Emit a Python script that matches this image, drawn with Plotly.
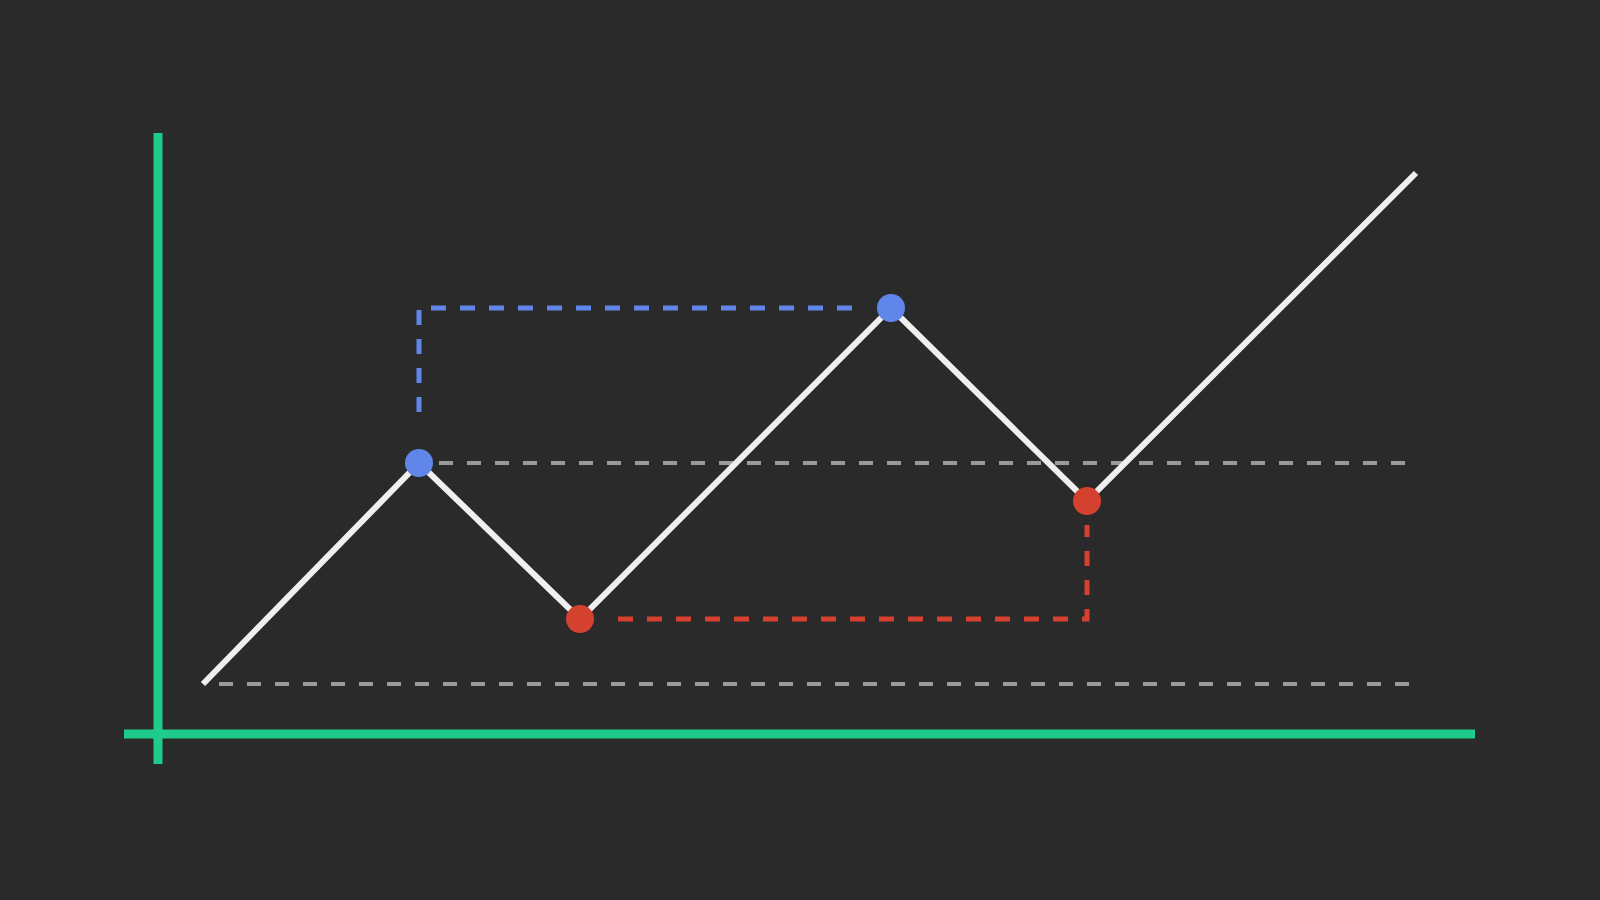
import plotly.graph_objects as go

# zigzag price path (x = time, y = price), 10 px per unit on the canvas
time = [4.5, 26.1, 42.2, 73.3, 92.9, 125.8]
price = [5.0, 27.1, 11.5, 42.6, 23.3, 56.1]

# swing highs (blue) and swing lows (red)
high_time = [26.1, 73.3]
high_price = [27.1, 42.6]
low_time = [42.2, 92.9]
low_price = [11.5, 23.3]

# horizontal support levels (gray dashed)
support_price = [5.0, 27.1]
support_start = [6.1, 28.1]
support_end = 125.8

# higher-high guide (blue dashed) and higher-low guide (red dashed)
hh_time = [69.4, 26.1, 26.1]
hh_price = [42.6, 42.6, 31.1]
hl_time = [46.0, 92.9, 92.9]
hl_price = [11.5, 11.5, 20.9]

# axis extents
x_axis_span = [-3.4, 131.7]
y_axis_span = [-3.0, 60.1]

BG = "#2a2a2a"
GREEN = "#1fcb8a"
BLUE = "#5f86e8"
RED = "#d5412f"
GRAY = "#9b9b9b"
WHITE = "#efefef"

fig = go.Figure()

for lvl, x0 in zip(support_price, support_start):
    fig.add_trace(go.Scatter(x=[x0, support_end], y=[lvl, lvl], mode="lines",
                             line=dict(color=GRAY, width=4, dash="14px,14px")))

fig.add_trace(go.Scatter(x=hh_time, y=hh_price, mode="lines",
                         line=dict(color=BLUE, width=5, dash="15px,14px")))
fig.add_trace(go.Scatter(x=hl_time, y=hl_price, mode="lines",
                         line=dict(color=RED, width=5, dash="15px,14px")))

# axes
fig.add_trace(go.Scatter(x=x_axis_span, y=[0, 0], mode="lines",
                         line=dict(color=GREEN, width=9)))
fig.add_trace(go.Scatter(x=[0, 0], y=y_axis_span, mode="lines",
                         line=dict(color=GREEN, width=9)))

fig.add_trace(go.Scatter(x=time, y=price, mode="lines",
                         line=dict(color=WHITE, width=6)))

fig.add_trace(go.Scatter(x=high_time, y=high_price, mode="markers",
                         marker=dict(color=BLUE, size=28, line=dict(width=0))))
fig.add_trace(go.Scatter(x=low_time, y=low_price, mode="markers",
                         marker=dict(color=RED, size=28, line=dict(width=0))))

fig.update_layout(
    width=1600, height=900,
    margin=dict(l=0, r=0, t=0, b=0),
    paper_bgcolor=BG, plot_bgcolor=BG,
    showlegend=False,
    xaxis=dict(range=[-15.8, 144.2], visible=False, fixedrange=True),
    yaxis=dict(range=[-16.6, 73.4], visible=False, fixedrange=True),
)

fig.write_html("out.html", config={"displayModeBar": False},
               post_script="document.body.style.margin='0';document.body.style.overflow='hidden';document.body.style.background='#2a2a2a';")
